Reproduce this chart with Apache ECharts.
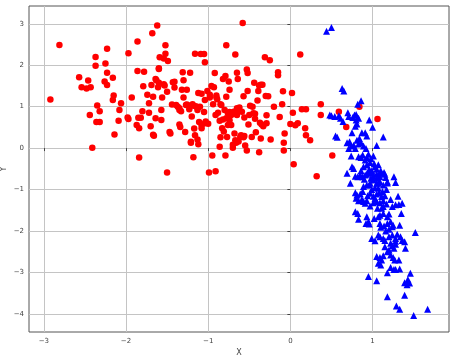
<!DOCTYPE html>
<html>
<head>
<meta charset="utf-8">
<script src="https://cdn.jsdelivr.net/npm/echarts@6/dist/echarts.min.js"></script>
<style>html,body{margin:0;padding:0;background:#fff}#c{width:476px;height:361px}</style>
</head>
<body>
<div id="c"></div>
<script>
const xTicks = [-3, -2, -1, 0, 1];
const yTicks = [-4, -3, -2, -1, 0, 1, 2, 3];
const xRange = [-3.18, 1.93];
const yRange = [-4.44, 3.43];

const classRed = [
[-2.92,1.17],[-2.81,2.49],[-2.57,1.71],[-2.54,1.47],[-2.48,1.44],[-2.46,1.63],[-2.43,1.47],[-2.44,0.80],[-2.41,0.01],[-2.37,2.20],[-2.37,1.99],[-2.35,1.03],[-2.36,0.63],[-2.32,0.63],[-2.32,0.89],[-2.23,2.40],[-2.25,2.04],[-2.23,1.82],[-2.26,1.61],[-2.23,1.52],[-2.16,1.70],[-2.15,1.27],[-2.16,1.16],[-2.14,0.33],[-2.06,1.08],[-2.08,0.92],[-2.09,0.66],[-1.98,0.74],[-1.97,2.29],[-1.97,0.70],[-1.93,1.22],[-1.86,2.57],[-1.86,1.86],[-1.87,0.56],[-1.85,0.73],[-1.84,0.48],[-1.84,-0.23],[-1.82,0.73],[-1.80,0.89],[-1.79,1.49],[-1.78,1.84],[-1.74,1.29],[-1.72,0.85],[-1.72,1.08],[-1.70,0.53],[-1.68,2.77],[-1.69,1.52],[-1.67,1.24],[-1.67,0.32],[-1.66,0.30],[-1.64,0.72],[-1.63,1.64],[-1.62,2.96],[-1.61,1.47],[-1.60,1.93],[-1.60,1.91],[-1.59,2.19],[-1.57,0.68],[-1.56,1.22],[-1.57,0.92],[-1.60,1.58],[-1.64,1.67],[-1.54,2.16],[-1.52,2.48],[-1.52,2.28],[-1.53,1.51],[-1.49,2.10],[-1.50,1.36],[-1.50,-0.59],[-1.47,0.39],[-1.46,0.35],[-1.44,1.05],[-1.43,1.59],[-1.41,1.60],[-1.41,1.46],[-1.39,1.04],[-1.37,1.00],[-1.35,0.92],[-1.35,0.57],[-1.34,0.51],[-1.32,1.41],[-1.31,1.83],[-1.30,1.64],[-1.30,1.22],[-1.28,0.39],[-1.27,1.04],[-1.26,1.41],[-1.24,1.03],[-1.23,0.94],[-1.22,1.82],[-1.21,0.15],[-1.20,0.76],[-1.19,1.06],[-1.18,-0.22],[-1.17,0.47],[-1.16,0.31],[-1.16,2.28],[-1.15,1.01],[-1.13,0.21],[-1.12,0.09],[-1.13,0.92],[-1.12,1.33],[-1.11,0.63],[-1.10,1.00],[-1.09,2.27],[-1.08,1.31],[-1.08,0.48],[-1.05,2.27],[-1.04,2.07],[-1.05,0.87],[-1.04,1.16],[-1.04,0.60],[-1.01,1.38],[-1.00,0.59],[-0.99,-0.59],[-0.98,1.29],[-0.98,1.22],[-0.96,1.50],[-0.95,-0.18],[-0.94,1.06],[-0.93,1.47],[-0.92,1.81],[-0.91,-0.56],[-0.91,0.80],[-0.90,1.27],[-0.90,1.22],[-0.89,1.18],[-0.88,0.85],[-0.86,0.66],[-0.86,0.03],[-0.85,1.06],[-0.83,0.48],[-0.82,1.67],[-0.81,0.40],[-0.80,0.92],[-0.79,1.74],[-0.79,-0.18],[-0.78,2.48],[-0.78,0.72],[-0.78,1.24],[-0.77,0.27],[-0.76,0.56],[-0.75,1.61],[-0.74,0.87],[-0.74,1.41],[-0.72,0.56],[-0.70,0.01],[-0.70,0.08],[-0.68,0.35],[-0.67,2.26],[-0.66,0.13],[-0.65,0.89],[-0.65,0.80],[-0.65,1.82],[-0.64,1.67],[-0.63,0.16],[-0.62,0.98],[-0.61,0.27],[-0.59,0.88],[-0.58,3.02],[-0.57,0.26],[-0.56,0.29],[-0.56,0.74],[-0.55,0.06],[-0.53,1.90],[-0.53,-0.06],[-0.52,1.81],[-0.52,1.38],[-0.51,0.57],[-0.49,1.02],[-0.47,0.27],[-0.46,1.00],[-0.45,0.84],[-0.44,1.58],[-0.43,0.71],[-0.42,0.38],[-0.40,1.15],[-0.39,1.38],[-0.38,-0.10],[-0.38,1.51],[-0.36,0.23],[-0.36,1.53],[-0.34,1.53],[-0.35,0.57],[-0.33,0.53],[-0.31,2.19],[-0.30,1.26],[-0.29,0.79],[-0.29,0.60],[-0.27,1.25],[-0.25,2.12],[-0.24,0.21],[-0.20,1.00],[-0.15,1.83],[-0.15,1.76],[-0.13,0.75],[-0.10,1.06],[-0.09,1.37],[-0.08,0.13],[-0.08,-0.06],[-0.07,0.35],[0.00,0.58],[0.02,1.33],[0.03,0.85],[0.04,-0.39],[0.06,0.55],[0.09,0.60],[0.12,2.26],[0.14,0.94],[0.18,0.48],[0.19,0.94],[0.19,0.31],[0.24,0.19],[0.32,-0.68],[0.37,1.06],[0.37,0.80],[0.51,-0.18],[0.59,0.88],[0.68,0.51],[0.84,1.00],[1.06,0.70],
[-0.69,0.88],[-0.65,0.96],[-0.50,0.80],[-0.43,0.83],[-0.37,0.61],[-0.67,0.19],[-0.60,0.31],[-0.85,0.26],[-0.57,1.25],[-1.21,0.13],[-1.08,0.55],[-1.03,0.64],[-0.84,1.04],[-0.76,0.84],[-0.72,0.80],[-0.82,0.69],[-0.74,0.67],[-1.54,1.54],[-1.35,0.96],[-1.33,0.89],[-1.26,1.05],[-1.18,1.02],[-1.13,0.97]
];

const classBlue = [
[0.44,2.82],[0.50,2.91],[0.63,1.44],[0.65,1.38],[0.86,1.14],[0.82,1.06],
[0.50,0.78],[0.54,0.76],[0.48,0.80],[0.59,0.78],[0.61,0.72],[0.64,0.64],
[0.70,0.85],[0.71,0.76],[0.76,0.74],[0.78,0.80],[0.80,0.81],[0.83,0.72],[0.80,0.68],
[0.96,0.68],[0.79,0.53],[0.81,0.58],[1.00,0.50],[1.13,0.27],[0.55,0.29],[0.57,0.26],
[0.75,0.37],[0.87,0.37],[0.91,0.37],[0.93,0.29],
[0.69,0.13],[0.72,0.15],[0.74,0.05],[0.71,-0.01],
[0.81,0.19],[0.84,0.23],[0.86,0.13],[0.83,0.10],
[0.77,0.07],[0.79,-0.01],[1.05,0.06],[0.89,0.05],[0.92,-0.01],
[0.74,-0.19],[0.83,-0.21],[0.86,-0.23],[0.88,-0.17],
[0.91,-0.29],[0.93,-0.23],[0.97,-0.35],[1.01,-0.19],
[0.75,-0.45],[0.77,-0.49],
[0.89,-0.45],[0.93,-0.41],[0.96,-0.51],[1.03,-0.45],[1.05,-0.51],
[0.69,-0.61],
[0.79,-0.68],[0.82,-0.69],[0.85,-0.65],[0.88,-0.69],
[0.93,-0.63],[0.98,-0.73],[1.01,-0.68],[1.05,-0.73],[1.09,-0.61],[1.14,-0.59],[1.16,-0.71],[1.26,-0.69],
[0.73,-0.85],
[0.89,-0.93],[0.96,-0.89],[1.07,-0.85],[1.18,-0.84],[1.28,-0.83],
[0.91,-0.65],[0.95,-0.59],[1.00,-0.61],[1.05,-0.63],[1.09,-0.69],[1.11,-0.61],[1.15,-0.63],[1.18,-0.81],
[0.93,-0.89],[0.97,-0.85],[1.01,-0.77],[1.05,-0.85],[1.09,-0.81],[1.13,-0.89],[1.17,-1.00],[1.07,-0.97],
[0.79,-1.08],[0.81,-1.13],[0.85,-1.11],[0.80,-1.21],[0.83,-1.27],[0.87,-1.24],[0.89,-1.29],[0.91,-1.33],[0.93,-1.27],
[0.97,-1.09],[1.01,-1.16],[1.05,-1.11],[1.08,-1.08],[1.11,-1.17],[1.13,-1.27],[1.09,-1.32],[1.05,-1.29],[1.01,-1.32],[0.97,-1.40],
[1.22,-1.24],[1.31,-1.16],[1.28,-1.37],[1.32,-1.36],[1.36,-1.33],[1.24,-1.41],
[0.79,-1.54],[0.82,-1.58],[0.83,-1.72],
[0.93,-1.66],[0.95,-1.78],[0.92,-1.82],[0.96,-1.83],
[1.02,-1.70],[1.07,-1.66],[1.09,-1.62],[1.13,-1.58],[1.11,-1.45],[1.13,-1.41],[1.20,-1.59],[1.18,-1.66],
[1.35,-1.58],
[1.09,-1.82],[1.10,-1.91],[1.14,-1.88],[1.18,-1.82],[1.22,-1.78],[1.25,-1.86],[1.24,-1.90],[1.20,-1.96],[1.33,-1.86],
[1.52,-2.04],
[0.99,-2.18],[1.03,-2.24],[1.07,-2.10],[1.09,-2.14],[1.13,-2.18],[1.15,-2.23],[1.20,-2.14],[1.24,-2.10],[1.28,-2.18],[1.30,-2.08],[1.34,-2.14],[1.36,-2.23],[1.39,-2.26],
[1.15,-2.38],[1.20,-2.46],[1.18,-2.50],[1.24,-2.36],[1.26,-2.42],[1.28,-2.32],[1.40,-2.42],
[1.05,-2.62],[1.09,-2.64],[1.11,-2.70],[1.13,-2.60],[1.22,-2.58],[1.25,-2.64],[1.27,-2.70],[1.32,-2.70],
[1.07,-2.78],[1.10,-2.82],
[1.22,-2.88],[1.26,-2.93],[1.28,-2.93],[1.33,-2.92],[1.18,-3.01],[1.46,-3.02],
[0.95,-3.10],[1.05,-3.20],
[1.39,-3.25],[1.43,-3.17],[1.42,-3.30],[1.45,-3.26],
[1.18,-3.59],[1.39,-3.55],
[1.29,-3.81],[1.33,-3.89],
[1.50,-4.04],[1.67,-3.89],
[0.95,-0.15],[0.98,-0.25],[1.02,-0.38],[0.86,-0.55],[0.99,-0.55],[1.07,-0.40],[1.10,-0.55],[0.90,-0.75],[1.03,-0.95],[0.99,-1.00],[1.12,-1.05],[1.15,-1.15],[0.94,-1.15],[1.03,-1.22],[1.17,-1.35],[0.88,-1.05],[1.06,-1.45],[1.16,-2.00],[1.28,-2.25],[1.22,-2.30]
];

const fmt = v => (v < 0 ? '\u2212' + Math.abs(v) : String(v));
const labelFont = {fontFamily: 'DejaVu Sans', fontSize: 7, color: '#444'};

const chart = echarts.init(document.getElementById('c'), null, {renderer: 'canvas'});
chart.setOption({
  animation: false,
  backgroundColor: '#fff',
  grid: {left: 29, right: 27, top: 6, bottom: 29, outerBoundsMode: 'none', containLabel: false,
         show: true, borderColor: '#555', borderWidth: 1, backgroundColor: 'transparent'},
  xAxis: {
    type: 'value', min: xRange[0], max: xRange[1],
    name: 'X', nameLocation: 'middle', nameGap: 17, nameMoveOverlap: false,
    nameTextStyle: {fontFamily: 'DejaVu Sans', fontSize: 8, color: '#444'},
    axisLine: {show: false},
    axisTick: {show: true, length: 3, lineStyle: {color: '#444'}, customValues: xTicks},
    axisLabel: {...labelFont, margin: 6, customValues: xTicks, formatter: fmt},
    splitLine: {show: true, lineStyle: {color: '#c4c4c4', width: 1}}
  },
  yAxis: {
    type: 'value', min: yRange[0], max: yRange[1],
    name: 'Y', nameLocation: 'middle', nameGap: 21, nameMoveOverlap: false,
    nameTextStyle: {fontFamily: 'DejaVu Sans', fontSize: 8, color: '#444'},
    axisLine: {show: false},
    axisTick: {show: true, length: 3, lineStyle: {color: '#444'}, customValues: yTicks},
    axisLabel: {...labelFont, margin: 5, customValues: yTicks, formatter: fmt},
    splitLine: {show: true, lineStyle: {color: '#c4c4c4', width: 1}}
  },
  series: [
    {type: 'scatter', data: classRed, symbol: 'circle', symbolSize: 6.5, itemStyle: {color: '#ff0000', opacity: 1}},
    {type: 'scatter', data: classBlue, symbol: 'triangle', symbolSize: 7, itemStyle: {color: '#0000ff', opacity: 1}}
  ]
});
</script>
</body>
</html>
